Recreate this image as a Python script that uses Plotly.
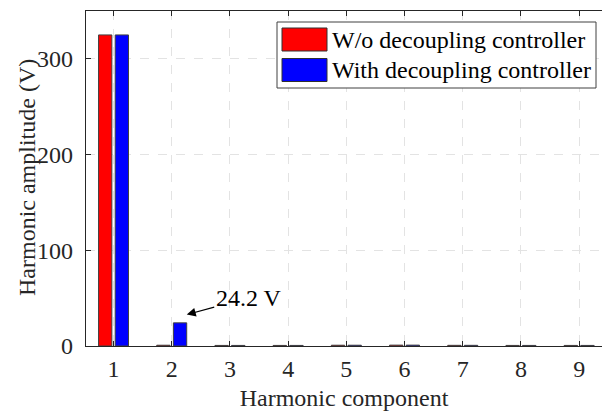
import plotly.graph_objects as go

# Harmonic spectrum data
harmonics = [1, 2, 3, 4, 5, 6, 7, 8, 9]
tick_labels = ["1", "2", "3", "4", "5", "6", "7", "8", "9"]
series_names = ["W/o decoupling controller", "With decoupling controller"]
amp_without = [325.0, 0.8, 0.6, 0.6, 0.8, 0.9, 0.7, 0.6, 0.6]
amp_with = [325.0, 24.2, 0.6, 0.6, 0.8, 0.9, 0.7, 0.6, 0.6]
series_colors = ["#ff0000", "#0000ff"]
y_ticks = [0, 100, 200, 300]

W, H = 602, 411
ML, MR, MT, MB = 86, 0, 11, 65
PW, PH = W - ML - MR, H - MT - MB
FONT = "Liberation Serif, Times New Roman, serif"


def px_x(p):
    return (p - ML) / PW


def px_y(p):
    return 1 - (p - MT) / PH


fig = go.Figure()
for name, vals, col in zip(series_names, [amp_without, amp_with], series_colors):
    fig.add_trace(go.Bar(
        x=harmonics, y=vals, name=name,
        marker=dict(color=col, line=dict(color="#404040", width=1)),
        showlegend=False,
    ))

# Callout on the second-harmonic bar
fig.add_annotation(
    x=2 + 0.258, y=amp_with[1] + 8.6, xref="x", yref="y",
    text=f"{amp_with[1]} V", showarrow=True,
    ax=62, ay=-17, arrowhead=2, arrowsize=1.5, arrowwidth=1.2,
    arrowcolor="black", font=dict(family=FONT, size=24, color="black"),
    standoff=0,
)

# Y-axis title placed as a rotated label
fig.add_annotation(
    x=px_x(27), y=px_y(178), xref="paper", yref="paper",
    text="Harmonic amplitude (V)", textangle=-90, showarrow=False,
    xanchor="center", yanchor="middle",
    font=dict(family=FONT, size=24, color="#262626"),
)

# Legend box drawn by hand for large swatches
shapes = [dict(type="rect", xref="paper", yref="paper",
               x0=px_x(277), x1=px_x(596), y0=px_y(88), y1=px_y(22),
               line=dict(color="#404040", width=1), fillcolor="white")]
for i, (name, col) in enumerate(zip(series_names, series_colors)):
    cy = 39.5 + 30.5 * i
    shapes.append(dict(type="rect", xref="paper", yref="paper",
                       x0=px_x(282), x1=px_x(327), y0=px_y(cy + 11.5), y1=px_y(cy - 11.5),
                       line=dict(color="#303030", width=1), fillcolor=col))
    fig.add_annotation(x=px_x(330), y=px_y(cy), xref="paper", yref="paper",
                       text=name, showarrow=False, xanchor="left", yanchor="middle",
                       font=dict(family=FONT, size=24, color="black"))

fig.update_layout(
    width=W, height=H,
    margin=dict(l=ML, r=MR, t=MT, b=MB),
    paper_bgcolor="white", plot_bgcolor="white",
    barmode="group", bargap=0.428, bargroupgap=0.2,
    font=dict(family=FONT, size=24, color="#262626"),
    shapes=shapes,
    xaxis=dict(
        range=[0.527, 9.393], tickvals=harmonics, ticktext=tick_labels,
        showline=True, linecolor="#262626", linewidth=1.3, mirror="ticks",
        ticks="inside", ticklen=5, tickcolor="#262626",
        showgrid=True, gridcolor="#e3e3e3", griddash="dash", gridwidth=1,
        zeroline=False, ticklabelstandoff=1,
        title=dict(text="Harmonic component", standoff=11,
                   font=dict(family=FONT, size=24, color="#262626")),
    ),
    yaxis=dict(
        range=[0, 350], tickvals=y_ticks,
        showline=True, linecolor="#262626", linewidth=1.3, mirror=False,
        ticks="inside", ticklen=5, tickcolor="#262626",
        showgrid=True, gridcolor="#e3e3e3", griddash="dash", gridwidth=1,
        zeroline=False, ticklabelstandoff=7,
    ),
)

fig.write_html("out.html")
